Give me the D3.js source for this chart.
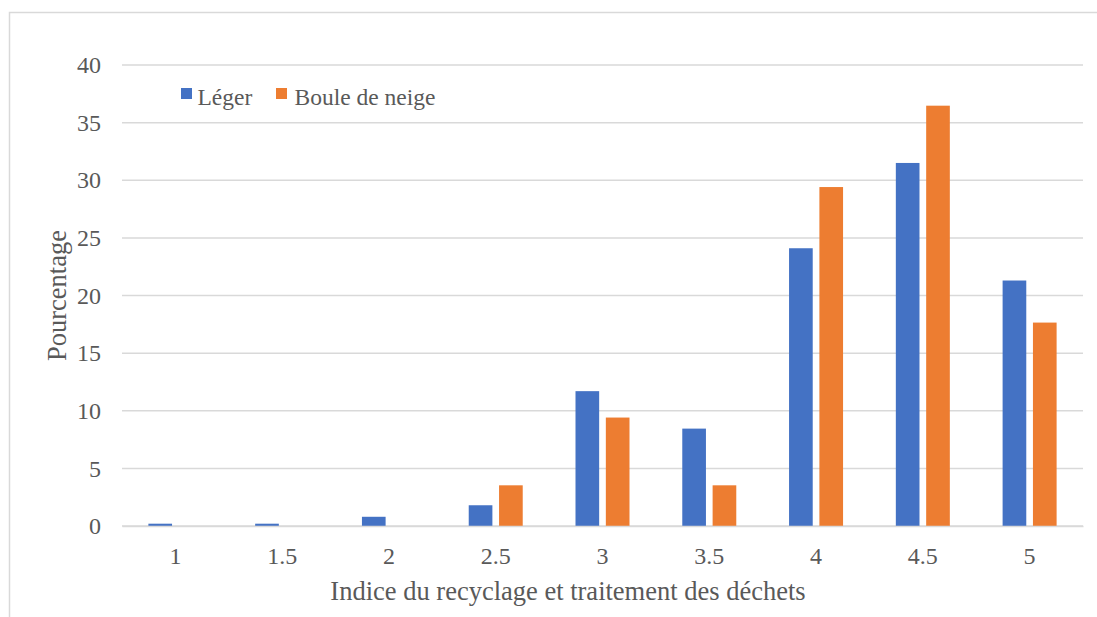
<!DOCTYPE html>
<html>
<head>
<meta charset="utf-8">
<script src="https://cdn.jsdelivr.net/npm/d3@7"></script>
<style>
  html, body { margin: 0; padding: 0; background: #fff; }
  svg { display: block; }
</style>
</head>
<body>
<svg id="chart" width="1097" height="617"></svg>
<script>
// Distribution of the recycling/waste-treatment index by scenario (percent)
const categories = ["1", "1.5", "2", "2.5", "3", "3.5", "4", "4.5", "5"];
const seriesNames = ["Léger", "Boule de neige"];
const leger = [0.2, 0.2, 0.8, 1.8, 11.7, 8.45, 24.1, 31.5, 21.3];
const bouleDeNeige = [0, 0, 0, 3.53, 9.41, 3.53, 29.41, 36.47, 17.65];
const yTicks = [0, 5, 10, 15, 20, 25, 30, 35, 40];
const colors = ["#4472C4", "#ED7D31"];

const seriesValues = [leger, bouleDeNeige];
const FONT = '"Liberation Serif", "Times New Roman", serif';
const TEXT_COLOR = "#595959";

const svg = d3.select("#chart");
const plot = { left: 122, right: 1083, top: 65, bottom: 526 };

// outer chart frame
svg.append("rect")
  .attr("x", 9.5).attr("y", 12.5)
  .attr("width", 1200).attr("height", 700)
  .attr("fill", "none").attr("stroke", "#D9D9D9").attr("stroke-width", 1.5);

const x = d3.scaleBand().domain(categories).range([plot.left, plot.right]).padding(0);
const half = 27;
const xs = d3.scaleBand().domain(seriesNames)
  .range([x.bandwidth() / 2 - half, x.bandwidth() / 2 + half])
  .paddingInner(0.22).paddingOuter(0);
const y = d3.scaleLinear().domain([0, 40]).range([plot.bottom, plot.top]);

// horizontal gridlines
svg.append("g").selectAll("line")
  .data(yTicks)
  .join("line")
  .attr("x1", plot.left).attr("x2", plot.right)
  .attr("y1", d => y(d)).attr("y2", d => y(d))
  .attr("stroke", "#D9D9D9").attr("stroke-width", 1.5);

// y axis labels
const yAxis = d3.axisLeft(y).tickValues(yTicks).tickSize(0).tickPadding(21).tickFormat(d3.format("d"));
const gy = svg.append("g").attr("transform", `translate(${plot.left},0)`).call(yAxis)
  .attr("font-family", null).attr("font-size", null);
gy.select(".domain").remove();
gy.selectAll("text").style("font-size", "24px").style("fill", TEXT_COLOR).style("font-family", FONT);

// bars
const rows = categories.map((c, i) => ({ c, vals: seriesNames.map((s, k) => ({ s, v: seriesValues[k][i], k })) }));
const groups = svg.append("g").selectAll("g")
  .data(rows)
  .join("g")
  .attr("transform", d => `translate(${x(d.c)},0)`);
groups.selectAll("rect")
  .data(d => d.vals)
  .join("rect")
  .attr("x", d => xs(d.s))
  .attr("width", xs.bandwidth())
  .attr("y", d => y(d.v))
  .attr("height", d => y(0) - y(d.v))
  .attr("fill", d => colors[d.k]);

// x axis
const xAxis = d3.axisBottom(x).tickSize(0).tickPadding(21);
const gx = svg.append("g").attr("transform", `translate(0,${plot.bottom})`).call(xAxis)
  .attr("font-family", null).attr("font-size", null);
gx.select(".domain").attr("stroke", "#D9D9D9").attr("stroke-width", 1.5);
gx.selectAll("text").style("font-size", "24px").style("fill", TEXT_COLOR).style("font-family", FONT);

// axis titles
svg.append("text")
  .attr("x", 568).attr("y", 600)
  .attr("text-anchor", "middle")
  .style("font-size", "26.5px").style("fill", TEXT_COLOR).style("font-family", FONT)
  .text("Indice du recyclage et traitement des déchets");

svg.append("text")
  .attr("transform", `translate(66,${(plot.top + plot.bottom) / 2}) rotate(-90)`)
  .attr("text-anchor", "middle")
  .style("font-size", "26.5px").style("fill", TEXT_COLOR).style("font-family", FONT)
  .text("Pourcentage");

// legend
const legend = svg.append("g").attr("transform", "translate(181,88)");
const legendX = [0, 95];
seriesNames.forEach((name, k) => {
  const g = legend.append("g").attr("transform", `translate(${legendX[k]},0)`);
  g.append("rect").attr("width", 11).attr("height", 11).attr("fill", colors[k]);
  g.append("text").attr("x", k === 0 ? 16.5 : 18.5).attr("y", 16.5)
    .style("font-size", "23.5px").style("fill", TEXT_COLOR).style("font-family", FONT)
    .text(name);
});
</script>
</body>
</html>
